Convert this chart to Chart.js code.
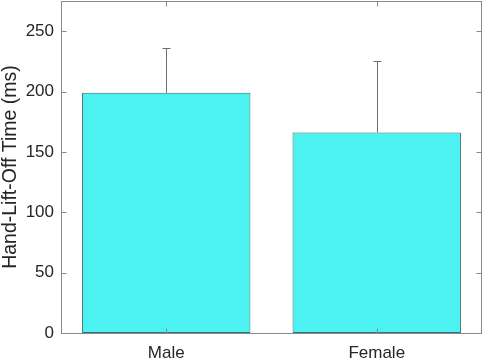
<!DOCTYPE html>
<html>
<head>
<meta charset="utf-8">
<script src="https://cdn.jsdelivr.net/npm/chart.js@4.4.1/dist/chart.umd.min.js"></script>
<style>
  html, body { margin: 0; padding: 0; background: #fff; }
  #wrap { width: 484px; height: 360px; }
</style>
</head>
<body>
<div id="wrap"><canvas id="chart" width="484" height="360"></canvas></div>
<script>
const categories = ['Male', 'Female']
const meanValues = [199, 166]
const errorTops = [236, 225]
const yTicks = [0, 50, 100, 150, 200, 250]
const yMax = 275

const axisColor = '#262626'
const boxColor = '#8a8a8a'
const fontFamily = 'Liberation Sans, Arial, sans-serif'

// error bars, inward ticks and the box around the axes
const matlabLook = {
    id: 'matlabLook',
    afterDatasetsDraw(chart) {
        const ctx = chart.ctx
        const area = chart.chartArea
        const x = chart.scales.x
        const y = chart.scales.y

        ctx.save()
        ctx.lineWidth = 1
        ctx.strokeStyle = '#6e6e6e'
        for (let i = 0; i < categories.length; i++) {
            let px = Math.round(x.getPixelForValue(i)) + 0.5
            let pBar = y.getPixelForValue(meanValues[i])
            let pTop = Math.round(y.getPixelForValue(errorTops[i])) + 0.5
            ctx.beginPath()
            ctx.moveTo(px, pBar)
            ctx.lineTo(px, pTop)
            ctx.moveTo(px - 4, pTop)
            ctx.lineTo(px + 4, pTop)
            ctx.stroke()
        }

        ctx.strokeStyle = boxColor
        const left = Math.round(area.left) + 0.5
        const right = Math.round(area.right) - 0.5
        const top = Math.round(area.top) + 0.5
        const bottom = Math.round(area.bottom) + 0.5
        ctx.beginPath()
        for (let v of yTicks) {
            let py = Math.round(y.getPixelForValue(v)) + 0.5
            ctx.moveTo(left, py)
            ctx.lineTo(left + 5, py)
            ctx.moveTo(right, py)
            ctx.lineTo(right - 5, py)
        }
        for (let i = 0; i < categories.length; i++) {
            let px = Math.round(x.getPixelForValue(i)) + 0.5
            ctx.moveTo(px, bottom)
            ctx.lineTo(px, bottom - 5)
            ctx.moveTo(px, top)
            ctx.lineTo(px, top + 5)
        }
        ctx.stroke()
        ctx.strokeRect(left, top, right - left, bottom - top)
        ctx.restore()
    }
}

const data = {
    labels: categories,
    datasets: [{
        label: 'Hand-Lift-Off Time',
        data: meanValues,
        backgroundColor: '#4bf2f0',
        borderColor: '#3b6f72',
        borderWidth: 1,
        borderSkipped: false,
        barPercentage: 0.8,
        categoryPercentage: 1.0
    }]
}

const config = {
    type: 'bar',
    data: data,
    plugins: [matlabLook],
    options: {
        responsive: false,
        animation: false,
        layout: { padding: { top: 1, right: 2, left: 0, bottom: 0 } },
        plugins: {
            legend: { display: false },
            tooltip: { enabled: false }
        },
        scales: {
            x: {
                offset: true,
                grid: { display: false, drawTicks: false },
                border: { display: false },
                ticks: {
                    color: axisColor,
                    padding: 10,
                    font: { family: fontFamily, size: 17 }
                },
                afterFit: (s) => {
                    s.height = 27
                    s.paddingLeft = 0
                    s.paddingRight = 0
                }
            },
            y: {
                min: 0,
                max: yMax,
                grid: { display: false, drawTicks: false },
                border: { display: false },
                afterBuildTicks: (s) => { s.ticks = yTicks.map(v => ({ value: v })) },
                ticks: {
                    color: axisColor,
                    padding: 7,
                    font: { family: fontFamily, size: 17 }
                },
                title: {
                    display: true,
                    text: 'Hand-Lift-Off Time (ms)',
                    color: axisColor,
                    padding: { top: 0, bottom: 0 },
                    font: { family: fontFamily, size: 19.5, lineHeight: 1.1 }
                },
                afterFit: (s) => {
                    s.width = 61
                    s.paddingTop = 0
                    s.paddingBottom = 0
                }
            }
        }
    }
}

new Chart(document.getElementById('chart'), config)
</script>
</body>
</html>
